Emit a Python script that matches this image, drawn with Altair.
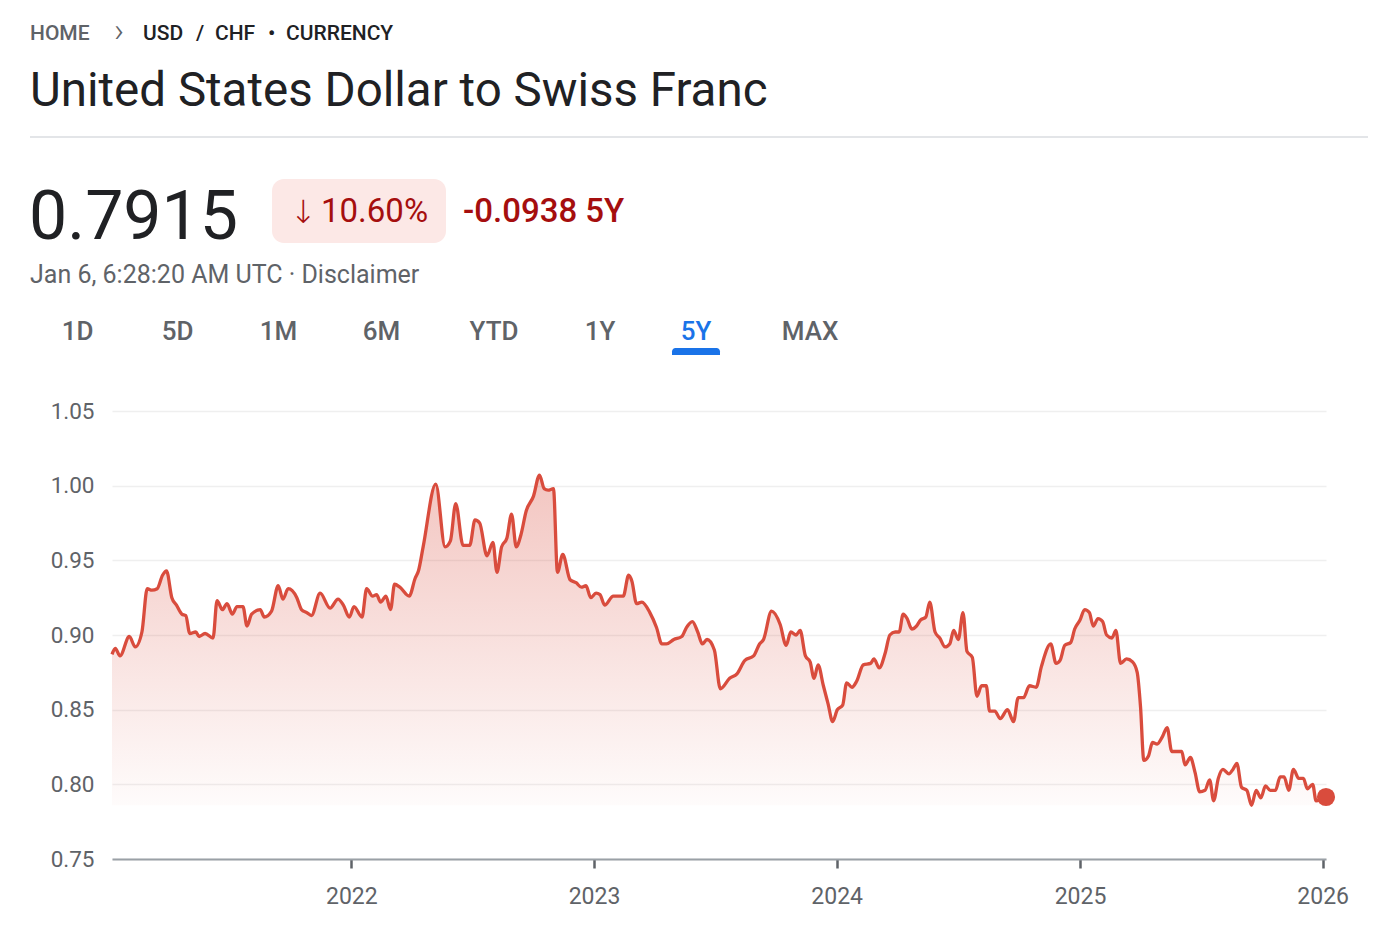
import altair as alt
import pandas as pd

# ---------------- data ----------------
start_date = "2021-01-06"
day_offsets = [
    0, 5, 12, 26, 35, 45, 53, 60, 68, 76, 82, 90, 97, 105, 111, 117, 126, 131, 140, 152,
    158, 166, 173, 181, 188, 197, 203, 210, 223, 229, 240, 250, 257, 265, 278, 285, 293, 300, 313, 328,
    340, 348, 357, 364, 376, 383, 392, 398, 404, 412, 419, 425, 433, 447, 456, 461, 468, 487, 501,
    509, 517, 528, 538, 546, 553, 564, 573, 579, 586, 594, 601, 608, 615, 623, 634, 643, 650, 656, 664,
    670, 678, 689, 698, 706, 713, 720, 728, 734, 741, 754, 769, 777, 782, 789, 797, 809, 819, 827, 834,
    845, 857, 864, 873, 881, 888, 895, 906, 915,
    929, 940, 952, 965, 974, 980, 992, 1005, 1014, 1021, 1029, 1035, 1043, 1050, 1056, 1062, 1070, 1077,
    1084, 1091, 1099, 1105, 1113, 1120, 1130, 1141, 1146, 1154, 1163, 1170, 1178, 1184, 1190, 1196, 1203,
    1210, 1216, 1224, 1230, 1238, 1245, 1253, 1260, 1266, 1273, 1280, 1286, 1294, 1301, 1308, 1315, 1320,
    1328, 1336,
    1347, 1356, 1363, 1371, 1380, 1390, 1398, 1412, 1420, 1426, 1433, 1442, 1448, 1456, 1463, 1470, 1476,
    1483, 1490, 1496, 1504, 1510, 1517, 1526, 1535, 1542, 1547, 1552, 1559, 1565, 1572, 1580, 1587, 1594,
    1609, 1614, 1622, 1629, 1636, 1644, 1651, 1657, 1664, 1671, 1680, 1686, 1692, 1699, 1707, 1714, 1721,
    1728, 1735, 1742, 1750, 1757, 1763, 1770, 1777, 1785, 1792, 1798, 1806, 1811, 1826,
]
rates = [
    0.887, 0.891, 0.886, 0.899, 0.892, 0.902, 0.931, 0.930, 0.931, 0.940, 0.943, 0.925, 0.920, 0.914, 0.913,
    0.901, 0.902, 0.899, 0.901, 0.898, 0.923, 0.917, 0.921, 0.914, 0.919, 0.919, 0.906, 0.914, 0.917, 0.912,
    0.916, 0.933, 0.924, 0.931, 0.925, 0.917, 0.915, 0.913, 0.928, 0.918, 0.924, 0.920, 0.912, 0.919, 0.912,
    0.931, 0.926, 0.927, 0.922, 0.926, 0.917, 0.934, 0.932, 0.926, 0.938, 0.943, 0.959, 1.001, 0.959,
    0.963, 0.988, 0.960, 0.960, 0.977, 0.975, 0.953, 0.962, 0.942, 0.959, 0.965, 0.981, 0.959, 0.967, 0.983,
    0.993, 1.007, 0.998, 0.997, 0.998, 0.942, 0.954, 0.937, 0.935, 0.932, 0.933, 0.925, 0.928, 0.927, 0.920,
    0.926, 0.926, 0.940, 0.936, 0.921, 0.922, 0.915, 0.905, 0.894, 0.894, 0.897, 0.899, 0.905, 0.909, 0.902,
    0.894, 0.897, 0.890, 0.864,
    0.871, 0.874, 0.883, 0.886, 0.894, 0.897, 0.916, 0.907, 0.893, 0.902, 0.900, 0.903, 0.886, 0.882, 0.871,
    0.880, 0.866, 0.854, 0.842, 0.850, 0.853, 0.868, 0.865, 0.869, 0.880, 0.881, 0.884, 0.878, 0.888, 0.900,
    0.902, 0.902, 0.914, 0.911, 0.904, 0.906, 0.910, 0.912, 0.922, 0.902, 0.898, 0.892, 0.894, 0.903, 0.897,
    0.915, 0.889, 0.885, 0.859, 0.866, 0.866, 0.849, 0.849, 0.844,
    0.850, 0.842, 0.858, 0.858, 0.866, 0.865, 0.879, 0.894, 0.881, 0.883, 0.893, 0.895, 0.904, 0.910, 0.917,
    0.915, 0.906, 0.911, 0.909, 0.900, 0.898, 0.903, 0.881, 0.884, 0.882, 0.875, 0.852, 0.816, 0.819, 0.828,
    0.827, 0.832, 0.838, 0.822, 0.822, 0.813, 0.818, 0.808, 0.795, 0.796, 0.803, 0.789, 0.804, 0.810, 0.807,
    0.810, 0.814, 0.798, 0.796, 0.786, 0.796, 0.791, 0.799, 0.796, 0.796, 0.805, 0.805, 0.796, 0.810, 0.804,
    0.804, 0.797, 0.800, 0.789, 0.7915,
]
y_ticks = [0.75, 0.80, 0.85, 0.90, 0.95, 1.00, 1.05]
x_tick_years = [2022, 2023, 2024, 2025, 2026]
domain_start = (2021, 1, 6)
domain_end = (2026, 1, 6)

tabs = ["1D", "5D", "1M", "6M", "YTD", "1Y", "5Y", "MAX"]
active_tab = "5Y"

breadcrumb_home = "HOME"
breadcrumb_words = ["USD", "/", "CHF", "•", "CURRENCY"]
title_text = "United States Dollar to Swiss Franc"
price_text = "0.7915"
arrow_text = "↓"
pct_text = "10.60%"
change_text = "-0.0938 5Y"
stamp_text = "Jan 6, 6:28:20 AM UTC · Disclaimer"

# ---------------- layout / styles ----------------
FONT = "Roboto"
OX, OY = 112, 411            # page position of the plot origin
W, H = 1214, 448
LINE = "#d94c3d"
DARK = "#202124"
GREY = "#5f6368"
BLUE = "#1a73e8"
RED_TXT = "#a50e0e"

dates = (pd.Timestamp(start_date) + pd.to_timedelta(day_offsets, unit="D")).strftime("%Y-%m-%d")
df = pd.DataFrame({"date": dates, "rate": rates})
df["is_last"] = [i == len(rates) - 1 for i in range(len(rates))]
BASE = min(rates)

one = pd.DataFrame({"k": [0]})


def txt(text, x, y, size, color, weight=400, align="left", font=FONT):
    return alt.Chart(pd.DataFrame({"t": [text]})).mark_text(
        align=align, baseline="alphabetic", fontSize=size, fontWeight=weight,
        color=color, font=font
    ).encode(x=alt.value(x - OX), y=alt.value(y - OY), text="t:N")


x_scale = alt.Scale(
    type="utc",
    domain=[alt.DateTime(year=domain_start[0], month=domain_start[1], date=domain_start[2], utc=True),
            alt.DateTime(year=domain_end[0], month=domain_end[1], date=domain_end[2], utc=True)],
)
y_scale = alt.Scale(domain=[y_ticks[0], y_ticks[-1]], nice=False, zero=False)

x_axis = alt.Axis(
    values=[alt.DateTime(year=yy, month=1, date=1, utc=True) for yy in x_tick_years],
    format="%Y", title=None, grid=False,
    ticks=True, tickSize=9, tickWidth=2.5, tickColor=GREY,
    domainColor="#9aa0a6", domainWidth=2,
    labelFont=FONT, labelFontSize=23, labelColor=GREY, labelPadding=17,
)
y_axis = alt.Axis(
    values=y_ticks, format=".2f", title=None, ticks=False, domain=False,
    grid=True, gridColor="#efefef", gridWidth=1.5,
    labelFont=FONT, labelFontSize=22.5, labelColor=GREY, labelPadding=18,
)

base = alt.Chart(df).encode(
    x=alt.X("date:T", scale=x_scale, axis=x_axis),
    y=alt.Y("rate:Q", scale=y_scale, axis=y_axis),
)

area = base.mark_area(
    interpolate="monotone",
    color=alt.Gradient(
        gradient="linear",
        stops=[alt.GradientStop(color="rgba(217,76,61,0.32)", offset=0),
               alt.GradientStop(color="rgba(217,76,61,0.02)", offset=1)],
        x1=0, x2=0, y1=0, y2=1,
    ),
).encode(y2=alt.Y2Datum(BASE))

line = base.mark_line(interpolate="monotone", color=LINE, strokeWidth=3.3)

dot = base.mark_circle(size=330, color=LINE, opacity=1).transform_filter(
    alt.datum.is_last
)

# ---------------- header ----------------
layers = []
layers.append(txt(breadcrumb_home, 30, 40, 21, GREY, 500))
layers.append(txt("›", 114, 42, 34, GREY, 300))
for word, px in zip(breadcrumb_words, [143, 196, 215, 268, 286]):
    layers.append(txt(word, px, 40, 21, DARK, 500))
layers.append(txt(title_text, 30, 106, 47.5, DARK, 400))

sep = alt.Chart(one).mark_rule(color="#dadce0", strokeWidth=1.5).encode(
    x=alt.value(30 - OX), x2=alt.value(1368 - OX), y=alt.value(137 - OY)
)
layers.append(sep)

layers.append(txt(price_text, 29, 239, 68, DARK, 400))
badge = alt.Chart(one).mark_rect(color="#fce8e6", cornerRadius=12).encode(
    x=alt.value(272 - OX), x2=alt.value(446 - OX), y=alt.value(179 - OY), y2=alt.value(243 - OY)
)
layers.append(badge)
layers.append(txt(arrow_text, 290, 223, 32, RED_TXT, 300, font="DejaVu Sans"))
layers.append(txt(pct_text, 321, 222, 33, RED_TXT, 400))
layers.append(txt(change_text, 463, 222, 33, RED_TXT, 500))
layers.append(txt(stamp_text, 30, 283, 25, GREY, 400))

tab_x = [77.5, 177.5, 278.5, 381.5, 494, 600, 696, 810]
for t, px in zip(tabs, tab_x):
    layers.append(txt(t, px, 340, 26, BLUE if t == active_tab else GREY, 500, align="center"))
underline = alt.Chart(one).mark_rect(color=BLUE, cornerRadiusTopLeft=4, cornerRadiusTopRight=4).encode(
    x=alt.value(672 - OX), x2=alt.value(720 - OX), y=alt.value(348 - OY), y2=alt.value(355 - OY)
)
layers.append(underline)

chart = alt.layer(area, line, dot, *layers).properties(
    width=W, height=H,
    padding={"left": OX - 8, "top": OY - 8, "right": 42, "bottom": 50},
    autosize=alt.AutoSizeParams(type="none"),
    background="white",
).configure_view(strokeWidth=0, stroke="transparent").configure_axis(
    domain=False
).configure_axisX(domain=True)

chart.save("out.html", embed_options={"renderer": "svg", "actions": False})
